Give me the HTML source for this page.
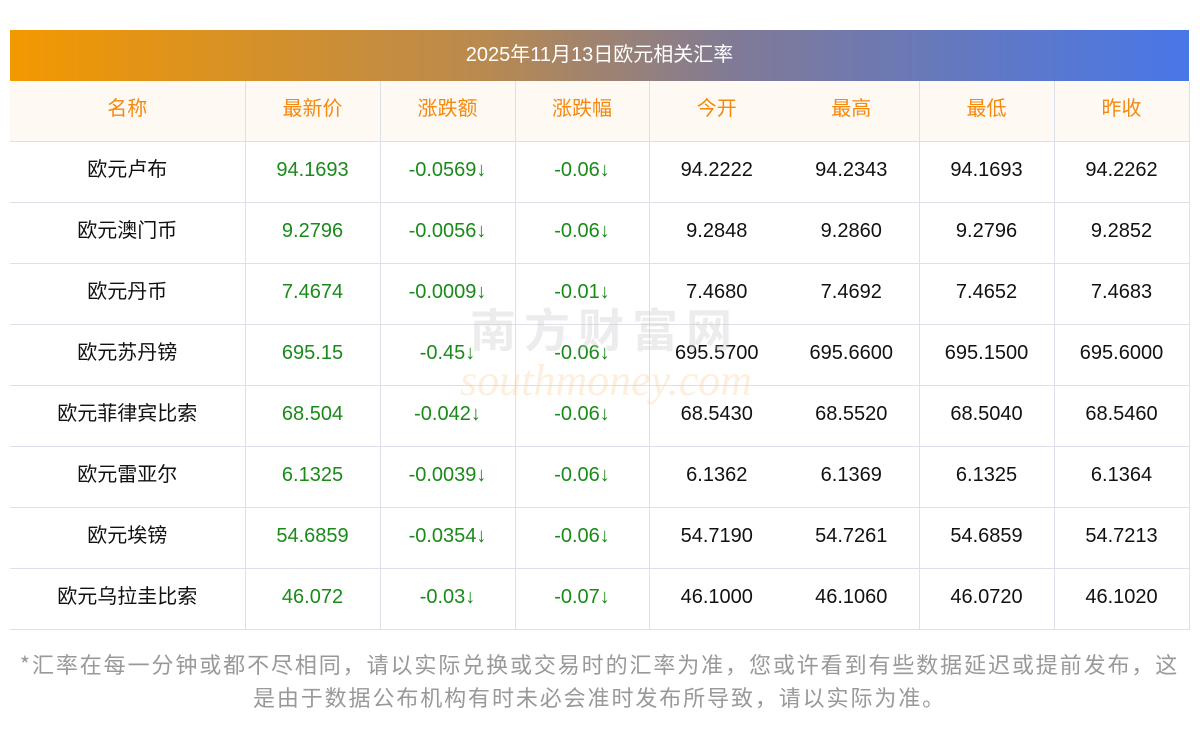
<!DOCTYPE html>
<html><head><meta charset="utf-8"><style>
body{margin:0;width:1200px;height:733px;background:#fff;font-family:"Liberation Sans","Noto Sans CJK SC",sans-serif;position:relative;overflow:hidden}
.title{position:absolute;left:10px;top:30px;width:1179px;height:51px;background:linear-gradient(90deg,#f39800,#b98a4f 40%,#7f7a98 62%,#4877e8);color:#fff;font-size:20px;line-height:51px;text-align:center}
table{position:absolute;left:10px;top:81px;border-collapse:collapse;table-layout:fixed;width:1179px}
td{height:60px;border-bottom:1px solid #dde0ea;text-align:center;font-size:20px;line-height:20px;color:#111;padding:0}
td span{position:relative;top:-2px}
td.c,tr.h td{font-family:"Noto Sans CJK SC",sans-serif}
td.c span,tr.h td span{top:-4px}
td.v{border-right:1px solid #dde0ea}
tr.h td{background:#fef9f3;color:#f5890f}
.g{color:#1a8a1a}
.wm{position:absolute;left:470px;top:295px;font-size:46px;color:rgba(200,200,200,.35);letter-spacing:8px;font-weight:bold;font-family:"Noto Sans CJK SC",sans-serif}
.wm2{position:absolute;left:460px;top:355px;font-size:44px;color:rgba(250,210,160,.35);font-style:italic;font-family:"Liberation Serif",serif}
.foot{position:absolute;left:10px;top:648px;width:1179px;text-align:center;font-size:22px;letter-spacing:1.9px;line-height:33px;color:#999;font-family:"Noto Sans CJK SC",sans-serif}
</style></head><body>
<div class="title">2025年11月13日欧元相关汇率</div>
<table>
<colgroup><col style="width:235px"><col style="width:135px"><col style="width:135px"><col style="width:134px"><col style="width:135px"><col style="width:135px"><col style="width:135px"><col style="width:135px"></colgroup>
<tr class="h"><td class="v"><span>名称</span></td><td class="v"><span>最新价</span></td><td class="v"><span>涨跌额</span></td><td class="v"><span>涨跌幅</span></td><td><span>今开</span></td><td class="v"><span>最高</span></td><td class="v"><span>最低</span></td><td class="v"><span>昨收</span></td></tr>
<tr><td class="v c"><span>欧元卢布</span></td><td class="v g"><span>94.1693</span></td><td class="v g"><span>-0.0569↓</span></td><td class="v g"><span>-0.06↓</span></td><td><span>94.2222</span></td><td class="v"><span>94.2343</span></td><td class="v"><span>94.1693</span></td><td class="v"><span>94.2262</span></td></tr>
<tr><td class="v c"><span>欧元澳门币</span></td><td class="v g"><span>9.2796</span></td><td class="v g"><span>-0.0056↓</span></td><td class="v g"><span>-0.06↓</span></td><td><span>9.2848</span></td><td class="v"><span>9.2860</span></td><td class="v"><span>9.2796</span></td><td class="v"><span>9.2852</span></td></tr>
<tr><td class="v c"><span>欧元丹币</span></td><td class="v g"><span>7.4674</span></td><td class="v g"><span>-0.0009↓</span></td><td class="v g"><span>-0.01↓</span></td><td><span>7.4680</span></td><td class="v"><span>7.4692</span></td><td class="v"><span>7.4652</span></td><td class="v"><span>7.4683</span></td></tr>
<tr><td class="v c"><span>欧元苏丹镑</span></td><td class="v g"><span>695.15</span></td><td class="v g"><span>-0.45↓</span></td><td class="v g"><span>-0.06↓</span></td><td><span>695.5700</span></td><td class="v"><span>695.6600</span></td><td class="v"><span>695.1500</span></td><td class="v"><span>695.6000</span></td></tr>
<tr><td class="v c"><span>欧元菲律宾比索</span></td><td class="v g"><span>68.504</span></td><td class="v g"><span>-0.042↓</span></td><td class="v g"><span>-0.06↓</span></td><td><span>68.5430</span></td><td class="v"><span>68.5520</span></td><td class="v"><span>68.5040</span></td><td class="v"><span>68.5460</span></td></tr>
<tr><td class="v c"><span>欧元雷亚尔</span></td><td class="v g"><span>6.1325</span></td><td class="v g"><span>-0.0039↓</span></td><td class="v g"><span>-0.06↓</span></td><td><span>6.1362</span></td><td class="v"><span>6.1369</span></td><td class="v"><span>6.1325</span></td><td class="v"><span>6.1364</span></td></tr>
<tr><td class="v c"><span>欧元埃镑</span></td><td class="v g"><span>54.6859</span></td><td class="v g"><span>-0.0354↓</span></td><td class="v g"><span>-0.06↓</span></td><td><span>54.7190</span></td><td class="v"><span>54.7261</span></td><td class="v"><span>54.6859</span></td><td class="v"><span>54.7213</span></td></tr>
<tr><td class="v c"><span>欧元乌拉圭比索</span></td><td class="v g"><span>46.072</span></td><td class="v g"><span>-0.03↓</span></td><td class="v g"><span>-0.07↓</span></td><td><span>46.1000</span></td><td class="v"><span>46.1060</span></td><td class="v"><span>46.0720</span></td><td class="v"><span>46.1020</span></td></tr>
</table>
<div class="wm">南方财富网</div>
<div class="wm2">southmoney.com</div>
<div class="foot">*汇率在每一分钟或都不尽相同，请以实际兑换或交易时的汇率为准，您或许看到有些数据延迟或提前发布，这<br>是由于数据公布机构有时未必会准时发布所导致，请以实际为准。</div>
</body></html>
